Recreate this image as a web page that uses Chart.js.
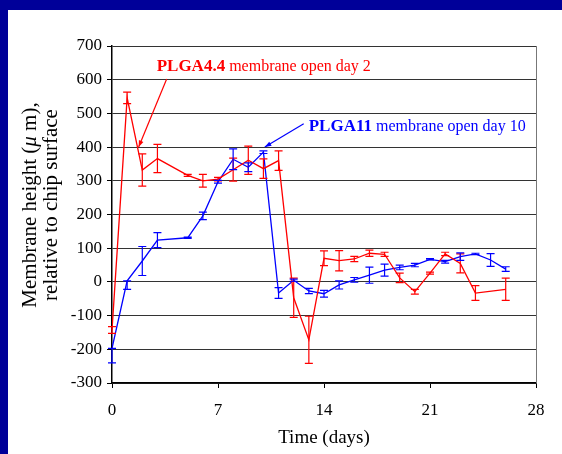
<!DOCTYPE html>
<html>
<head>
<meta charset="utf-8">
<script src="https://cdn.jsdelivr.net/npm/chart.js@4.4.0/dist/chart.umd.min.js"></script>
<style>
  html, body { margin: 0; padding: 0; background: #000099; overflow: hidden; }
  #chart { display: block; }
</style>
</head>
<body>
<canvas id="chart" width="562" height="454"></canvas>
<script>
// membrane height vs. time, two PLGA membranes
const redDays    = [0, 1, 2, 3, 5, 6, 7, 8, 9, 10, 11, 12, 13, 14, 15, 16, 17, 18, 19, 20, 21, 22, 23, 24, 26];
const redHeight  = [-143, 546, 332, 366, 316, 300, 305, 333, 361, 336, 360, -47, -172, 70, 63, 68, 85, 82, 12, -29, 26, 83, 55, -33, -22];
const redErrUp   = [10, 17, 48, 42, 3, 19, 5, 34, 42, 29, 29, 58, 70, 22, 30, 8, 9, 6, 14, 7, 3, 5, 28, 22, 33];
const redErrDown = [10, 17, 48, 42, 3, 19, 5, 34, 42, 29, 29, 58, 70, 22, 30, 8, 9, 6, 14, 7, 3, 5, 28, 22, 33];

const blueDays    = [0, 1, 2, 3, 5, 6, 7, 8, 9, 10, 11, 12, 13, 14, 15, 16, 17, 18, 19, 20, 21, 22, 23, 24, 25, 26];
const blueHeight  = [-197, 3, 62, 124, 131, 196, 297, 364, 340, 385, -33, 5, -27, -35, -9, 6, 20, 35, 43, 50, 67, 60, 75, 83, 65, 38];
const blueErrUp   = [0, 0, 43, 22, 2, 11, 4, 31, 13, 4, 16, 3, 8, 10, 12, 7, 24, 18, 7, 5, 2, 4, 11, 2, 19, 7];
const blueErrDown = [43, 25, 43, 22, 2, 11, 4, 31, 13, 4, 16, 3, 8, 10, 12, 7, 24, 18, 7, 5, 2, 4, 11, 2, 19, 7];

const xTicks = [0, 7, 14, 21, 28];
const yMin = -300, yMax = 700, yStep = 100;

const RED  = '#ff0000';
const BLUE = '#0000ff';
const SERIF = '"Liberation Serif", "Times New Roman", serif';

// callouts, positioned in data units: [day, height]
const callouts = [
    { color: RED,  bold: 'PLGA4.4', rest: ' membrane open day 2',  at: [2.95, 626], from: [3.61, 602], tip: [1.76, 400] },
    { color: BLUE, bold: 'PLGA11',  rest: ' membrane open day 10', at: [12.99, 448], from: [12.66, 469], tip: [10.09, 400] },
];

function toPoints(days, values) {
    return days.map((d, i) => ({ x: d, y: values[i] }));
}

const frame = {
    id: 'frame',
    beforeDraw(chart) {
        const ctx = chart.ctx;
        ctx.save();
        ctx.fillStyle = '#000099';
        ctx.fillRect(0, 0, chart.width, chart.height);
        ctx.fillStyle = '#ffffff';
        ctx.fillRect(8, 10, chart.width - 8, chart.height - 10);
        ctx.restore();
    },
    afterDraw(chart) {
        const ctx = chart.ctx;
        const a = chart.chartArea;
        ctx.save();
        // right edge of the plot box
        ctx.strokeStyle = '#777777';
        ctx.lineWidth = 1;
        ctx.beginPath();
        ctx.moveTo(Math.round(a.right) + 0.5, a.top);
        ctx.lineTo(Math.round(a.right) + 0.5, a.bottom);
        ctx.stroke();

        // axis titles
        ctx.fillStyle = '#000000';
        ctx.font = '19px ' + SERIF;
        ctx.textAlign = 'center';
        ctx.textBaseline = 'middle';
        ctx.fillText('Time (days)', (a.left + a.right) / 2, 438);

        ctx.translate(0, 205);
        ctx.rotate(-Math.PI / 2);
        const parts = [
            { t: 'Membrane height (', f: '21px ' + SERIF },
            { t: 'μ', f: 'italic 21px ' + SERIF },
            { t: ' m),', f: '21px ' + SERIF },
        ];
        let w = 0;
        parts.forEach(p => { ctx.font = p.f; p.w = ctx.measureText(p.t).width; w += p.w; });
        let x = -w / 2;
        ctx.textAlign = 'left';
        parts.forEach(p => { ctx.font = p.f; ctx.fillText(p.t, x, 30); x += p.w; });
        ctx.font = '21px ' + SERIF;
        ctx.textAlign = 'center';
        ctx.fillText('relative to chip surface', 0, 51);
        ctx.restore();

        drawCallouts(chart);
    }
};

function drawCallouts(chart) {
    const ctx = chart.ctx;
    const xs = chart.scales.x, ys = chart.scales.y;
    const px = p => [xs.getPixelForValue(p[0]), ys.getPixelForValue(p[1])];
    ctx.save();
    callouts.forEach(c => {
        const [lx, ly] = px(c.at);
        ctx.fillStyle = c.color;
        ctx.textBaseline = 'alphabetic';
        ctx.textAlign = 'left';
        ctx.font = 'bold 17px ' + SERIF;
        ctx.fillText(c.bold, lx, ly);
        const bw = ctx.measureText(c.bold).width;
        ctx.font = '16px ' + SERIF;
        ctx.fillText(c.rest, lx + bw, ly);

        const [x0, y0] = px(c.from);
        const [x1, y1] = px(c.tip);
        ctx.strokeStyle = c.color;
        ctx.lineWidth = 1.2;
        ctx.beginPath();
        ctx.moveTo(x0, y0);
        ctx.lineTo(x1, y1);
        ctx.stroke();
        const ang = Math.atan2(y1 - y0, x1 - x0);
        ctx.beginPath();
        ctx.moveTo(x1, y1);
        ctx.lineTo(x1 - 7 * Math.cos(ang - 0.35), y1 - 7 * Math.sin(ang - 0.35));
        ctx.lineTo(x1 - 7 * Math.cos(ang + 0.35), y1 - 7 * Math.sin(ang + 0.35));
        ctx.closePath();
        ctx.fill();
    });
    ctx.restore();
}

const errorBars = {
    id: 'errorBars',
    afterDatasetsDraw(chart) {
        const ctx = chart.ctx;
        const xs = chart.scales.x, ys = chart.scales.y;
        chart.data.datasets.forEach(ds => {
            ctx.save();
            ctx.strokeStyle = ds.borderColor;
            ctx.lineWidth = 1.2;
            ds.data.forEach((p, i) => {
                const x = xs.getPixelForValue(p.x);
                const top = ys.getPixelForValue(p.y + ds.errUp[i]);
                const bot = ys.getPixelForValue(p.y - ds.errDown[i]);
                ctx.beginPath();
                ctx.moveTo(x, top);
                ctx.lineTo(x, bot);
                ctx.moveTo(x - 4, top);
                ctx.lineTo(x + 4, top);
                ctx.moveTo(x - 4, bot);
                ctx.lineTo(x + 4, bot);
                ctx.stroke();
            });
            ctx.restore();
        });
    }
};

new Chart(document.getElementById('chart'), {
    type: 'line',
    data: {
        datasets: [
            {
                label: 'PLGA4.4',
                data: toPoints(redDays, redHeight),
                errUp: redErrUp,
                errDown: redErrDown,
                borderColor: RED,
                borderWidth: 1.3,
                pointRadius: 0,
                tension: 0,
            },
            {
                label: 'PLGA11',
                data: toPoints(blueDays, blueHeight),
                errUp: blueErrUp,
                errDown: blueErrDown,
                borderColor: BLUE,
                borderWidth: 1.3,
                pointRadius: 0,
                tension: 0,
            },
        ]
    },
    options: {
        responsive: false,
        animation: false,
        layout: { padding: { left: 8, top: 46, right: 26, bottom: 0 } },
        plugins: {
            legend: { display: false },
            tooltip: { enabled: false },
        },
        scales: {
            x: {
                type: 'linear',
                min: 0,
                max: 28,
                afterFit: (s) => { s.height = 71; },
                afterBuildTicks: (s) => { s.ticks = xTicks.map(v => ({ value: v })); },
                ticks: {
                    color: '#000',
                    font: { family: SERIF, size: 17 },
                    padding: 12,
                    maxRotation: 0,
                },
                grid: { drawOnChartArea: false, drawTicks: true, tickLength: 5, tickColor: '#000', tickWidth: 1 },
                border: { display: true, color: '#000', width: 1.5 },
            },
            y: {
                min: yMin,
                max: yMax,
                afterFit: (s) => { s.width = 104; },
                ticks: {
                    stepSize: yStep,
                    color: '#000',
                    font: { family: SERIF, size: 17 },
                    padding: 5,
                },
                grid: { color: '#333', lineWidth: 1, drawTicks: true, tickLength: 5, tickColor: '#000' },
                border: { display: true, color: '#000', width: 1.5 },
            },
        }
    },
    plugins: [frame, errorBars],
});
</script>
</body>
</html>
